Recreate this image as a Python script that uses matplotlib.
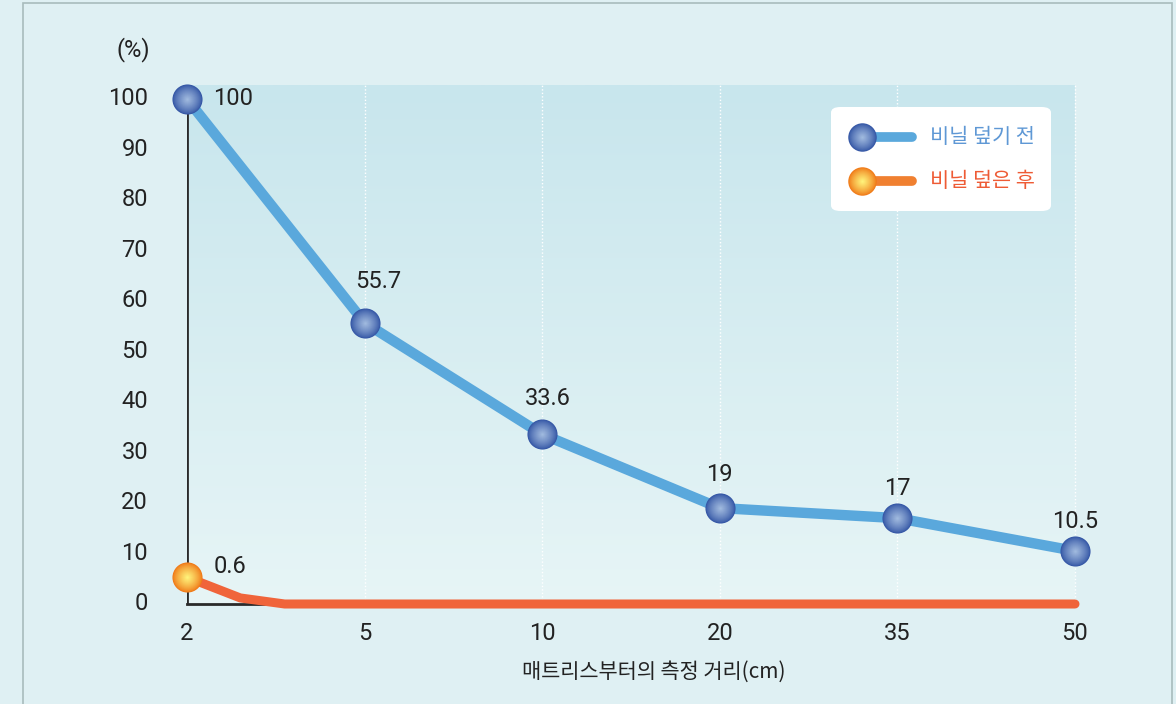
import numpy as np
import matplotlib.pyplot as plt
from matplotlib.colors import LinearSegmentedColormap, to_rgb
from matplotlib.patches import FancyBboxPatch, Rectangle

plt.rcParams['font.family'] = ['Noto Sans CJK KR', 'DejaVu Sans']
NUM_FONT = ['Roboto', 'DejaVu Sans']
NUM_SIZE = 17

# data
distances = ['2', '5', '10', '20', '35', '50']
before = [100, 55.7, 33.6, 19, 17, 10.5]
before_labels = ['100', '55.7', '33.6', '19', '17', '10.5']
# orange line as drawn (drops to 0 shortly after the first point)
after_x = [0, 0.3, 0.55, 1, 2, 3, 4, 5]
after_y = [5.3, 1.2, 0, 0, 0, 0, 0, 0]
after_label = '0.6'
label_offsets = [(19, 0), (10, 30), (4, 26), (0, 24), (0, 21), (0, 21)]

bg = '#dff0f3'
blue_line = '#5aa8dc'
orange_line = '#f0643a'

fig = plt.figure(figsize=(11.76, 7.04), dpi=100, facecolor=bg)
ax = fig.add_axes([187/1176, 1-604/704, 888/1176, 519/704])
ax.set_xlim(0, 5)
ax.set_ylim(0, 102.77)
ax.set_facecolor(bg)

# outer frame
fig.patches.append(Rectangle((23/1176, -0.05), 1149/1176, 1.05-3/704, transform=fig.transFigure,
                             fill=False, ec='#a8bcbc', lw=1.2))

# gradient fill of the plot area
cmap = LinearSegmentedColormap.from_list('g', ['#e7f5f6', '#c8e6ed'])
grad = np.linspace(0, 1, 256).reshape(-1, 1)
ax.imshow(grad, cmap=cmap, aspect='auto', extent=[0, 5, 0, 102.77], origin='lower', zorder=0)

for s in ax.spines.values():
    s.set_visible(False)
ax.vlines(range(1, 6), 0, 103.2, colors='white', linestyles=(0, (1, 1.5)), lw=1, zorder=1, clip_on=False)
ax.plot([0, 0], [0, 100], color='#2a2a2a', lw=2, zorder=2)
ax.plot([0, 5], [0, 0], color='#2a2a2a', lw=2, zorder=2, clip_on=False)

x = np.arange(len(distances))
ax.plot(x, before, color=blue_line, lw=7.5, solid_capstyle='round', zorder=3)
ax.plot(after_x, after_y, color=orange_line, lw=6.5, solid_capstyle='round', zorder=3, clip_on=False)


def sphere(ax, xs, ys, edge, center, size=470, transform=None, n=16):
    e = np.array(to_rgb(edge))
    c = np.array(to_rgb(center))
    kw = {} if transform is None else {'transform': transform}
    for i in range(n):
        t = i / (n - 1)
        col = e * (1 - t ** 0.8) + c * t ** 0.8
        ax.scatter(xs, ys, s=size * (1 - t * 0.94) ** 2, color=col, lw=0, zorder=5 + i * 0.01,
                   clip_on=False, **kw)


sphere(ax, x, before, '#3557a6', '#9fb9de')
sphere(ax, [after_x[0]], [after_y[0]], '#f07a18', '#fff27a')

for xi, yi, lab, off in zip(x, before, before_labels, label_offsets):
    ha = 'left' if off[0] > 12 else 'center'
    ax.annotate(lab, (xi, yi), xytext=off, textcoords='offset points', ha=ha, va='center',
                fontsize=NUM_SIZE, color='#222222', zorder=8, family=NUM_FONT)
ax.annotate(after_label, (after_x[0], after_y[0]), xytext=(19, 8), textcoords='offset points',
            ha='left', va='center', fontsize=NUM_SIZE, color='#222222', zorder=8, family=NUM_FONT)

ax.set_xticks(x)
ax.set_xticklabels(distances, family=NUM_FONT)
ax.set_yticks(range(0, 101, 10))
ax.set_yticklabels([str(v) for v in range(0, 101, 10)], family=NUM_FONT)
ax.tick_params(length=0, labelsize=NUM_SIZE, colors='#222222', pad=13)
ax.tick_params(axis='y', pad=28)
for t in ax.get_yticklabels():
    t.set_verticalalignment('center')

fig.text(133/1176, 1-50/704, '(%)', ha='center', va='center', fontsize=NUM_SIZE, color='#222222',
         family=NUM_FONT)
fig.text(654/1176, 1-672/704, '매트리스부터의 측정 거리(cm)', ha='center', va='center',
         fontsize=15, color='#222222')

# legend box
lx0, ly0, lx1, ly1 = 831, 107, 1051, 211
box = FancyBboxPatch((lx0/1176, 1-ly1/704), (lx1-lx0)/1176, (ly1-ly0)/704,
                     boxstyle='round,pad=0,rounding_size=0.008', transform=fig.transFigure,
                     fc='white', ec='none', zorder=10)
fig.patches.append(box)
lax = fig.add_axes([lx0/1176, 1-ly1/704, (lx1-lx0)/1176, (ly1-ly0)/704])
lax.set_xlim(lx0, lx1)
lax.set_ylim(ly1, ly0)
lax.axis('off')
lax.set_zorder(11)
lax.plot([862, 912], [137, 137], color=blue_line, lw=7, solid_capstyle='round', zorder=3)
lax.plot([862, 912], [181, 181], color='#f08030', lw=7, solid_capstyle='round', zorder=3)
sphere(lax, [862], [137], '#3557a6', '#9fb9de', size=420)
sphere(lax, [862], [181], '#f07a18', '#fff27a', size=420)
lax.text(930, 137, '비닐 덮기 전', ha='left', va='center', fontsize=15, color='#5f98d5')
lax.text(930, 181, '비닐 덮은 후', ha='left', va='center', fontsize=15, color='#ee5b35')

fig.savefig('out.png', dpi=100, facecolor=bg)
